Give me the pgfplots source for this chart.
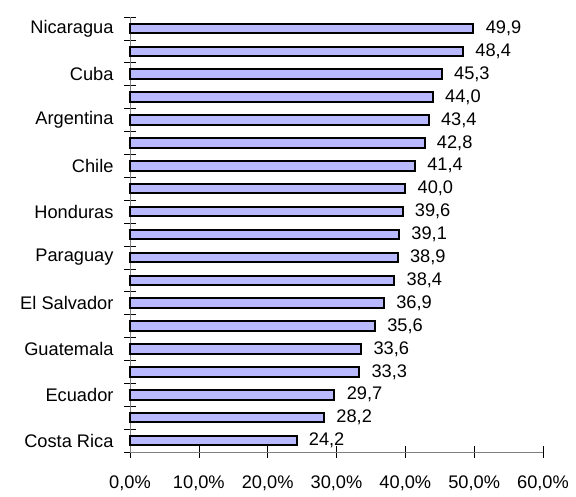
\documentclass[border=0pt]{standalone}
\usepackage{pgfplots}
\pgfplotsset{compat=1.18}
\usepackage{fontspec}
\setmainfont{Liberation Sans}
\definecolor{barfill}{RGB}{185,185,255}
\definecolor{axgray}{RGB}{128,128,128}
\begin{document}
\begin{tikzpicture}
\useasboundingbox (0,0) rectangle (576bp,497bp);
\begin{axis}[
  at={(130bp,45bp)}, anchor=south west,
  scale only axis, width=413bp, height=435bp,
  xmin=0, xmax=60, ymin=-0.5, ymax=18.5,
  xbar, bar width=9.5bp,
  axis x line*=bottom, axis y line*=left,
  axis line style={axgray, line width=1pt, -},
  xtick={0,10,...,60},
  xticklabels={{0,0\%},{10,0\%},{20,0\%},{30,0\%},{40,0\%},{50,0\%},{60,0\%}},
  ytick={0,2,...,18},
  yticklabels={Costa Rica,Ecuador,Guatemala,El Salvador,Paraguay,Honduras,Chile,Argentina,Cuba,Nicaragua},
  minor ytick={-0.5,0.5,...,18.5},
  major y tick style={draw=none},
  minor y tick style={black, line width=0.6pt},
  minor tick length=12bp,
  major x tick style={black, line width=0.6pt},
  major tick length=12bp,
  tick align=center,
  tick label style={font=\fontsize{18.3}{21}\selectfont},
  xticklabel style={yshift=-14bp},
  yticklabel style={xshift=-7bp},
  nodes near coords,
  nodes near coords align={horizontal},
  point meta=explicit symbolic,
  every node near coord/.append style={font=\fontsize{18.3}{21}\selectfont, black, anchor=west, xshift=8bp},
  clip=false,
]
\addplot[fill=barfill, draw=black, line width=2pt] coordinates {
(24.2,0) [24,2]
(28.2,1) [28,2]
(29.7,2) [29,7]
(33.3,3) [33,3]
(33.6,4) [33,6]
(35.6,5) [35,6]
(36.9,6) [36,9]
(38.4,7) [38,4]
(38.9,8) [38,9]
(39.1,9) [39,1]
(39.6,10) [39,6]
(40.0,11) [40,0]
(41.4,12) [41,4]
(42.8,13) [42,8]
(43.4,14) [43,4]
(44.0,15) [44,0]
(45.3,16) [45,3]
(48.4,17) [48,4]
(49.9,18) [49,9]
};
\end{axis}
\end{tikzpicture}
\end{document}
